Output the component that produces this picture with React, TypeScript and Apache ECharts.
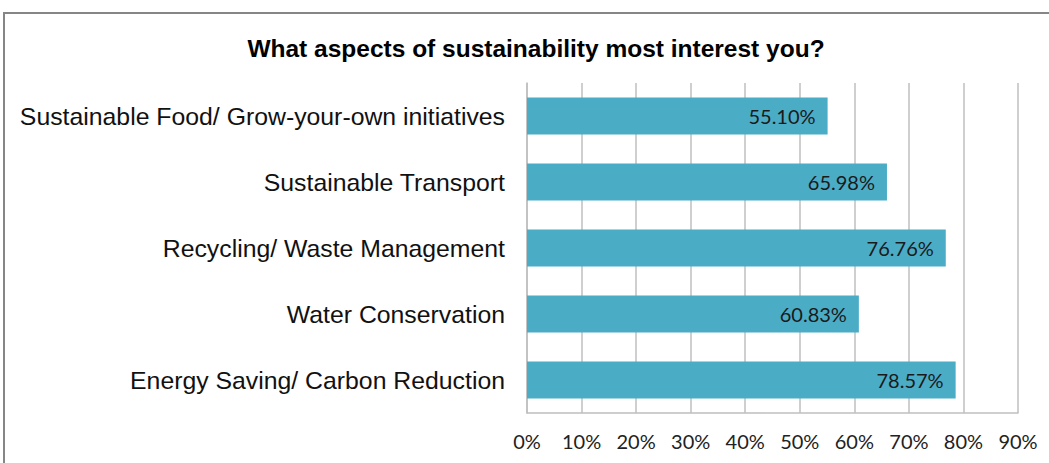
import React, { useEffect, useRef } from "react";
import * as echarts from "echarts";

const titleText = "What aspects of sustainability most interest you?";
const categories = [
  "Sustainable Food/ Grow-your-own initiatives",
  "Sustainable Transport",
  "Recycling/ Waste Management",
  "Water Conservation",
  "Energy Saving/ Carbon Reduction",
];
const values = [55.1, 65.98, 76.76, 60.83, 78.57];
const axisMax = 90;
const axisInterval = 10;

export default function App() {
  const ref = useRef<HTMLDivElement>(null);
  useEffect(() => {
    if (!ref.current) return;
    const chart = echarts.init(ref.current, undefined, { renderer: "svg" });
    chart.setOption({
      animation: false,
      backgroundColor: "#ffffff",
      title: {
        text: titleText,
        left: 531,
        textAlign: "center",
        top: 31,
        textStyle: {
          fontFamily: "Liberation Sans, Arial, sans-serif",
          fontWeight: "bold",
          fontSize: 24.5,
          color: "#000000",
        },
      },
      graphic: [
        {
          type: "rect",
          shape: { x: 4, y: 13, width: 1200, height: 600 },
          style: { fill: "none", stroke: "#868686", lineWidth: 2 },
          silent: true,
          z: -1,
        },
      ],
      grid: { left: 527, right: 31, top: 83, bottom: 50 },
      xAxis: {
        type: "value",
        min: 0,
        max: axisMax,
        interval: axisInterval,
        axisLine: { show: true, lineStyle: { color: "#bfbfbf", width: 1.5 } },
        axisTick: { show: false },
        splitLine: { show: true, lineStyle: { color: "#bfbfbf", width: 1.5 } },
        axisLabel: {
          formatter: "{value}%",
          margin: 18,
          fontFamily: "Lato, Open Sans, sans-serif",
          fontSize: 20,
          color: "#222222",
        },
      },
      yAxis: {
        type: "category",
        data: categories,
        inverse: true,
        axisLine: { show: true, lineStyle: { color: "#bfbfbf", width: 1.5 } },
        axisTick: { show: false },
        axisLabel: {
          margin: 22,
          fontFamily: "Liberation Sans, Arial, sans-serif",
          fontSize: 24.8,
          color: "#111111",
        },
      },
      series: [
        {
          type: "bar",
          data: values,
          barCategoryGap: "44%",
          itemStyle: { color: "#4BACC6" },
          label: {
            show: true,
            position: "insideRight",
            distance: 12,
            formatter: (p: any) => p.value.toFixed(2) + "%",
            fontFamily: "Lato, Open Sans, sans-serif",
            fontSize: 20,
            color: "#1a1a1a",
          },
        },
      ],
    });
    return () => chart.dispose();
  }, []);
  return (
    <div
      ref={ref}
      style={{ position: "fixed", left: 0, top: 0, width: 1049, height: 463 }}
    />
  );
}
